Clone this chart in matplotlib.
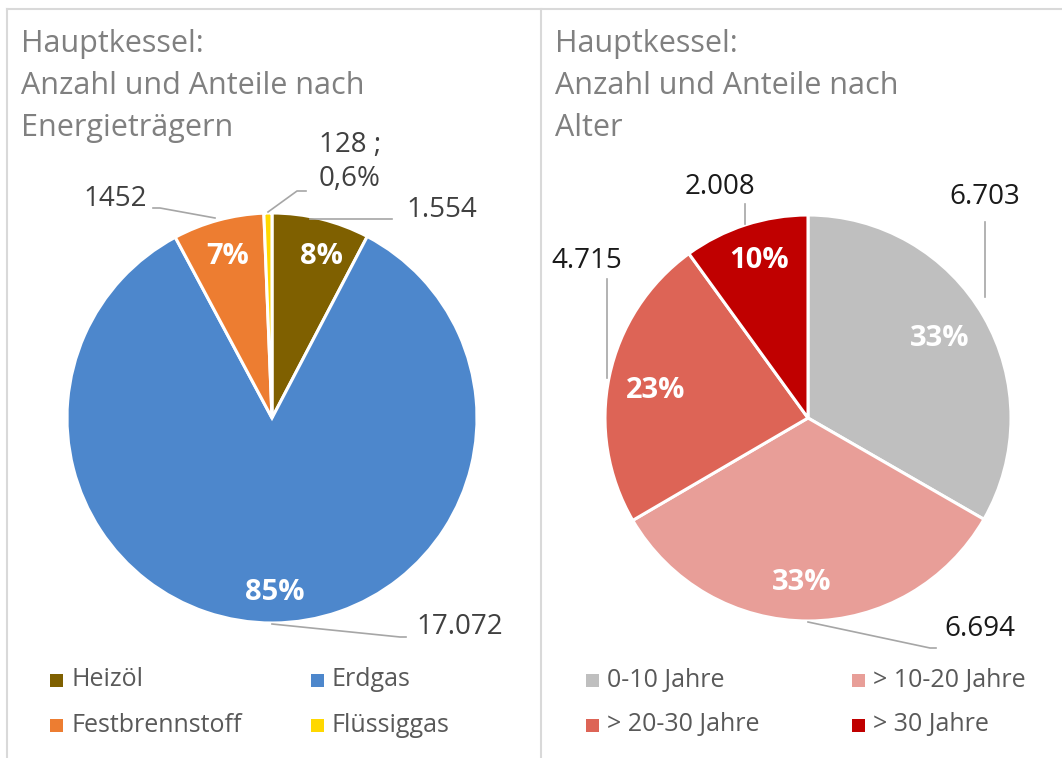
import numpy as np
import matplotlib.pyplot as plt
from matplotlib.patches import Rectangle

plt.rcParams['font.family'] = ['Open Sans', 'DejaVu Sans']

# left chart: energy carriers
energy_labels = ["Heizöl", "Erdgas", "Festbrennstoff", "Flüssiggas"]
energy_counts = [1554, 17072, 1452, 128]
energy_count_text = ["1.554", "17.072", "1452", "128 ;\n0,6%"]
energy_pct_text = ["8%", "85%", "7%", ""]
energy_colors = ["#7F6000", "#4D87CC", "#ED7D31", "#FFD800"]

# right chart: age classes
age_labels = ["0-10 Jahre", "> 10-20 Jahre", "> 20-30 Jahre", "> 30 Jahre"]
age_counts = [6703, 6694, 4715, 2008]
age_count_text = ["6.703", "6.694", "4.715", "2.008"]
age_pct_text = ["33%", "33%", "23%", "10%"]
age_colors = ["#BFBFBF", "#E89E98", "#DD6456", "#C00000"]

W, H = 1062, 758
fig = plt.figure(figsize=(W / 100, H / 100), dpi=100)
ax = fig.add_axes([0, 0, 1, 1])

# panel frames
ax.plot([7, W], [9, 9], color="#D9D9D9", lw=1.5)
ax.plot([7, 7], [9, H], color="#D9D9D9", lw=1.5)
ax.plot([541, 541], [9, H], color="#D9D9D9", lw=1.5)

title_kw = dict(color="#808080", fontsize=22, va="center", ha="left")
for i, line in enumerate(["Hauptkessel:", "Anzahl und Anteile nach", "Energieträgern"]):
    ax.text(21, 44 + i * 42, line, **title_kw)
for i, line in enumerate(["Hauptkessel:", "Anzahl und Anteile nach", "Alter"]):
    ax.text(555, 44 + i * 42, line, **title_kw)


def draw_pie(values, colors, cx, cy, r):
    # y axis is inverted, so counterclock=True runs clockwise on screen
    wedges, _ = ax.pie(values, colors=colors, startangle=-90, counterclock=True,
                       center=(cx, cy), radius=r, frame=True,
                       wedgeprops=dict(edgecolor="white", linewidth=2.2))
    ax.set_xlim(0, W)
    ax.set_ylim(H, 0)
    ax.set_aspect("equal")
    ax.axis("off")
    return wedges


draw_pie(energy_counts, energy_colors, 272, 418, 205)
draw_pie(age_counts, age_colors, 808, 418, 203)

pct_kw = dict(color="white", fontsize=21, fontweight="bold", ha="center", va="center")
for txt, pos in zip(energy_pct_text, [(321, 256), (275, 592), (228, 256), (0, 0)]):
    if txt:
        ax.text(pos[0], pos[1], txt, **pct_kw)
for txt, pos in zip(age_pct_text, [(940, 338), (802, 582), (656, 390), (759, 261)]):
    ax.text(pos[0], pos[1], txt, **pct_kw)

lab_kw = dict(fontsize=20, ha="center", va="center")
lead_kw = dict(color="#A6A6A6", lw=1.2)

# left data labels with leader lines
left_pos = [(442, 210), (460, 627), (115, 199), (350, 162)]
for txt, pos in zip(energy_count_text, left_pos):
    ax.text(pos[0], pos[1], txt, color="#404040", linespacing=1.3, **lab_kw)
ax.plot([310, 392], [219, 219], **lead_kw)
ax.plot([272, 400, 406], [624, 637, 637], **lead_kw)
ax.plot([153, 160, 215], [208, 208, 218], **lead_kw)
ax.plot([268, 297, 306], [212, 191, 191], **lead_kw)

# right data labels with leader lines
right_pos = [(985, 197), (980, 629), (587, 261), (720, 187)]
for txt, pos in zip(age_count_text, right_pos):
    ax.text(pos[0], pos[1], txt, color="#1A1A1A", **lab_kw)
ax.plot([985, 985], [222, 297], **lead_kw)
ax.plot([808, 930, 936], [622, 648, 648], **lead_kw)
ax.plot([607, 607], [279, 378], **lead_kw)
ax.plot([745, 745], [204, 224], **lead_kw)

# legends
leg_kw = dict(color="#595959", fontsize=18, ha="left", va="center")
leg_left = [(50, 680), (311, 680), (50, 725), (311, 725)]
for name, col, (x, y) in zip(energy_labels, energy_colors, leg_left):
    ax.add_patch(Rectangle((x, y - 6.5), 13, 13, color=col, lw=0))
    ax.text(x + 21, y, name, **leg_kw)
leg_right = [(586, 680), (852, 680), (586, 725), (852, 725)]
for name, col, (x, y) in zip(age_labels, age_colors, leg_right):
    ax.add_patch(Rectangle((x, y - 6.5), 13, 13, color=col, lw=0))
    ax.text(x + 21, y, name, **leg_kw)

fig.savefig("out.png", dpi=100, facecolor="white")
